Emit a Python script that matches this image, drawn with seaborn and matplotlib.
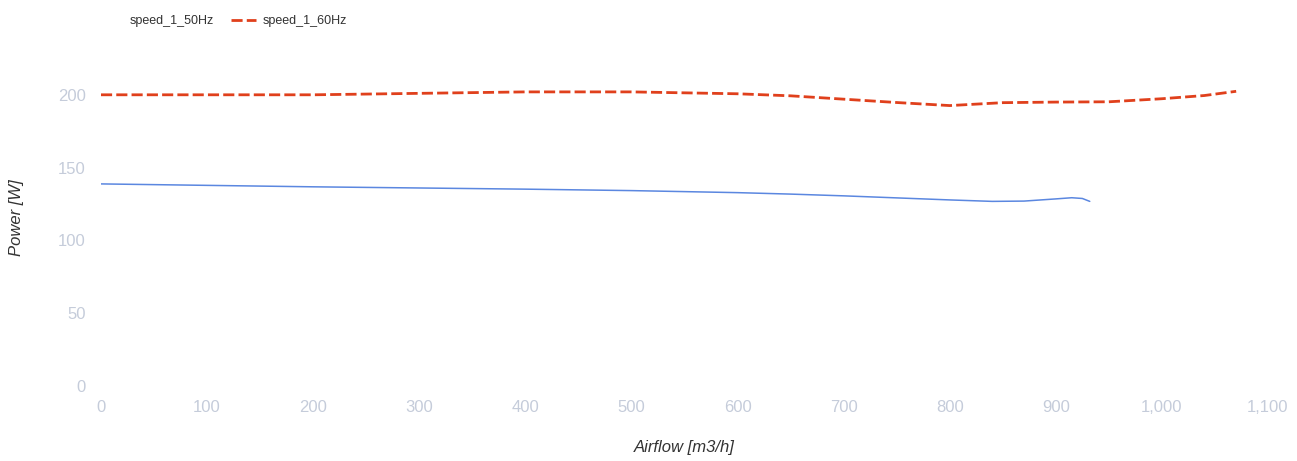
import matplotlib
matplotlib.use("Agg")
import matplotlib.pyplot as plt
import seaborn as sns
import pandas as pd
from matplotlib.lines import Line2D

# Data
airflow_50 = [0, 100, 200, 300, 400, 500, 600, 650, 700, 750, 800, 840, 870, 900, 915, 925, 932]
power_50 = [138.8, 137.8, 136.8, 136.0, 135.2, 134.2, 132.8, 131.8, 130.6, 129.2, 127.8, 126.8, 127.0, 128.5, 129.3, 128.8, 126.8]

airflow_60 = [0, 100, 200, 300, 400, 500, 600, 650, 700, 750, 800, 850, 900, 950, 1000, 1040, 1070]
power_60 = [200.0, 200.0, 200.0, 201.0, 202.0, 202.0, 200.7, 199.3, 197.0, 194.7, 192.6, 194.6, 195.0, 195.2, 197.3, 199.5, 202.4]

series_names = ["speed_1_50Hz", "speed_1_60Hz"]
x_ticks = [0, 100, 200, 300, 400, 500, 600, 700, 800, 900, 1000, 1100]
x_tick_labels = ["0", "100", "200", "300", "400", "500", "600", "700", "800", "900", "1,000", "1,100"]
y_ticks = [0, 50, 100, 150, 200]

df = pd.concat([
    pd.DataFrame({"Airflow": airflow_50, "Power": power_50, "series": series_names[0]}),
    pd.DataFrame({"Airflow": airflow_60, "Power": power_60, "series": series_names[1]}),
], ignore_index=True)

sns.set_theme(style="white")
plt.rcParams["font.family"] = ["Liberation Sans", "DejaVu Sans"]

fig = plt.figure(figsize=(12.97, 4.61), dpi=100)
ax = fig.add_axes([101 / 1297, 75 / 461, (1268 - 101) / 1297, (386 - 22) / 461])

blue = "#5b87e0"
red = "#e0401c"
palette = {series_names[0]: blue, series_names[1]: red}
dash = (4, 1.5)

sns.lineplot(data=df, x="Airflow", y="Power", hue="series", palette=palette,
             style="series", dashes={series_names[0]: "", series_names[1]: dash},
             sort=False, legend=False, ax=ax)
lines = ax.get_lines()
lines[0].set_linewidth(1.1)
lines[1].set_linewidth(2.0)

ax.set_xlim(0, 1100)
ax.set_ylim(0, 250)
ax.set_xticks(x_ticks)
ax.set_xticklabels(x_tick_labels)
ax.set_yticks(y_ticks)
tick_color = "#c5ccda"
ax.tick_params(axis="both", colors=tick_color, labelsize=12, length=0)
ax.tick_params(axis="x", pad=10)
ax.tick_params(axis="y", pad=11)
for s in ax.spines.values():
    s.set_visible(False)
ax.grid(False)

ax.set_xlabel("Airflow [m3/h]", fontsize=12, style="italic", color="#333333")
ax.xaxis.set_label_coords(0.5, -(440 - 386) / 364, transform=ax.transAxes)
ax.set_ylabel("Power [W]", fontsize=12, style="italic", color="#333333")
ax.yaxis.set_label_coords(-(101 - 24) / 1167, (386 - 218) / 364, transform=ax.transAxes)

handles = [Line2D([], [], color=blue, linewidth=0, alpha=0),
           Line2D([], [], color=red, linewidth=2.0, linestyle=(0, dash))]
fig.legend(handles, series_names, loc="upper left", bbox_to_anchor=(87 / 1297, 1 - 4 / 461),
           ncol=2, frameon=False, fontsize=9, handlelength=2.0, handletextpad=0.5,
           columnspacing=1.4, labelcolor="#333333")

fig.savefig("out.png", dpi=100)
